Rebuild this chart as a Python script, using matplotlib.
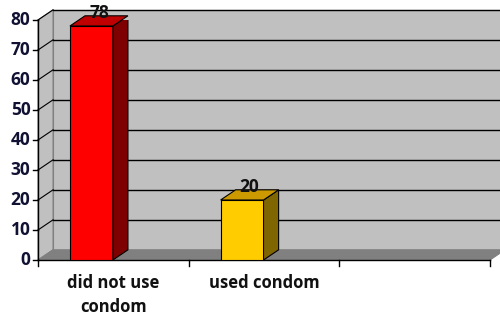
import matplotlib.pyplot as plt
from matplotlib.patches import Polygon

# chart data
categories = ['did not use\ncondom', 'used condom', '']
values = [78, 20]
front_colors = ['#FF0000', '#FFCC00']
side_colors = ['#7F0000', '#806600']
top_colors = ['#C00000', '#CC9900']
yticks = [0, 10, 20, 30, 40, 50, 60, 70, 80]

plt.rcParams['font.family'] = ['Open Sans', 'DejaVu Sans']

fig = plt.figure(figsize=(5, 3.18), dpi=100)
ax = fig.add_axes([38 / 500, 58 / 318, 452 / 500, 240 / 318])
ax.set_xlim(0, 3)
ax.set_ylim(0, 80)
ax.axis('off')

dx = 0.1   # depth offset in category units
dy = 3.4   # depth offset in value units

# side wall, back wall and floor
ax.add_patch(Polygon([(0, 0), (dx, dy), (dx, 80 + dy), (0, 80)],
                     facecolor='#C0C0C0', edgecolor='#808080', lw=0.8, clip_on=False, zorder=0))
ax.add_patch(Polygon([(dx, dy), (3 + dx, dy), (3 + dx, 80 + dy), (dx, 80 + dy)],
                     facecolor='#C0C0C0', edgecolor='#808080', lw=0.8, clip_on=False, zorder=0))
ax.add_patch(Polygon([(0, 0), (3, 0), (3 + dx, dy), (dx, dy)],
                     facecolor='#808080', edgecolor='#808080', lw=0.8, clip_on=False, zorder=0))

# gridlines on the back wall and side wall
for t in yticks[1:]:
    ax.plot([dx, 3 + dx], [t + dy, t + dy], color='black', lw=1, clip_on=False, zorder=1)
    ax.plot([0, dx], [t, t + dy], color='black', lw=0.8, clip_on=False, zorder=1)

# axes
ax.plot([0, 0], [0, 80], color='black', lw=1, clip_on=False, zorder=1)
ax.plot([0, 3], [0, 0], color='black', lw=1, clip_on=False, zorder=1)
for t in yticks:
    ax.plot([-0.033, 0], [t, t], color='black', lw=1, clip_on=False)
    ax.text(-0.05, t, str(t), ha='right', va='center', fontsize=12.5,
            fontweight='bold', color='#111133')
for i in range(4):
    ax.plot([i, i], [0, -2], color='black', lw=1, clip_on=False)
for i, c in enumerate(categories):
    ax.text(i + 0.5, -4.5, c, ha='center', va='top', fontsize=12,
            fontweight='bold', color='#111111', linespacing=1.45)

# 3d bars
w = 0.285
for i, v in enumerate(values):
    x0 = i + 0.212
    x1 = x0 + w
    ax.add_patch(Polygon([(x0, 0), (x1, 0), (x1, v), (x0, v)],
                         facecolor=front_colors[i], edgecolor='black', lw=0.8, zorder=3))
    ax.add_patch(Polygon([(x1, 0), (x1 + dx, dy), (x1 + dx, v + dy), (x1, v)],
                         facecolor=side_colors[i], edgecolor='black', lw=0.8, zorder=3))
    ax.add_patch(Polygon([(x0, v), (x1, v), (x1 + dx, v + dy), (x0 + dx, v + dy)],
                         facecolor=top_colors[i], edgecolor='black', lw=0.8, clip_on=False, zorder=3))
    ax.text((x0 + x1 + dx) / 2, v + dy + 0.8, str(v), ha='center', va='center',
            fontsize=12.5, fontweight='bold', color='#111111', zorder=4)

fig.savefig('out.png', dpi=100)
